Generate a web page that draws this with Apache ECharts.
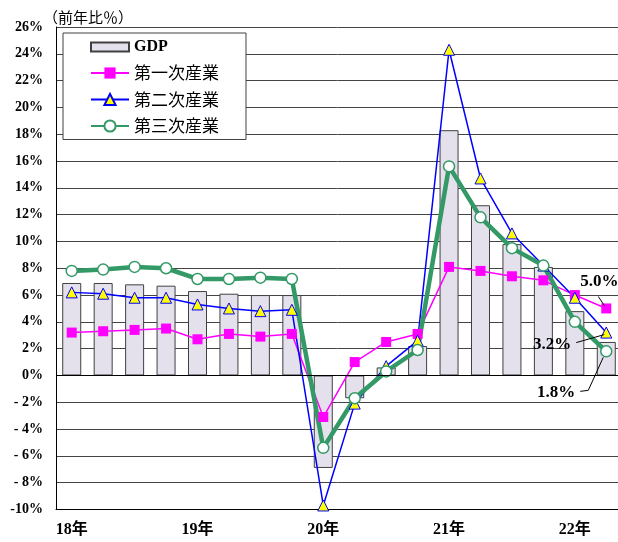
<!DOCTYPE html>
<html>
<head>
<meta charset="utf-8">
<script src="https://cdn.jsdelivr.net/npm/echarts@6/dist/echarts.min.js"></script>
<style>
  html, body { margin: 0; padding: 0; background: #fff; }
  #main { width: 618px; height: 542px; }
</style>
</head>
<body>
<div id="main"></div>
<script>
  // 四半期（累計、前年比%）
  var quarters = ['18Q1', '18Q2', '18Q3', '18Q4', '19Q1', '19Q2', '19Q3', '19Q4',
    '20Q1', '20Q2', '20Q3', '20Q4', '21Q1', '21Q2', '21Q3', '21Q4', '22Q1', '22Q2'];
  var gdp = [6.9, 6.9, 6.8, 6.7, 6.3, 6.1, 6.0, 6.0, -6.9, -1.7, 0.6, 2.2, 18.3, 12.7, 9.8, 8.1, 4.8, 2.5];
  var primary = [3.2, 3.3, 3.4, 3.5, 2.7, 3.1, 2.9, 3.1, -3.1, 1.0, 2.5, 3.1, 8.1, 7.8, 7.4, 7.1, 6.0, 5.0];
  var secondary = [6.2, 6.1, 5.8, 5.8, 5.3, 5.0, 4.8, 4.9, -9.7, -2.1, 0.7, 2.6, 24.3, 14.7, 10.6, 8.2, 5.8, 3.2];
  var tertiary = [7.8, 7.9, 8.1, 8.0, 7.2, 7.2, 7.3, 7.2, -5.4, -1.7, 0.3, 1.9, 15.6, 11.8, 9.5, 8.2, 4.0, 1.8];
  var names = ['GDP', '第一次産業', '第二次産業', '第三次産業'];

  var serif = "'Liberation Serif', 'Noto Sans CJK JP', serif";
  var cjk = "'Noto Sans CJK JP', sans-serif";

  var chart = echarts.init(document.getElementById('main'));

  var option = {
    animation: false,
    title: {
      text: '（前年比％）',
      left: 38,
      top: 5,
      textStyle: { fontFamily: cjk, fontSize: 15, fontWeight: 'normal', color: '#000' }
    },
    legend: {
      orient: 'vertical',
      left: 63,
      top: 33,
      padding: [6, 27, 5, 27],
      backgroundColor: '#fff',
      borderColor: '#404040',
      borderWidth: 1,
      itemWidth: 38,
      itemHeight: 14,
      itemGap: 9.5,
      textStyle: { fontFamily: cjk, fontSize: 17, color: '#000', lineHeight: 14 },
      data: [
        { name: names[0], icon: 'path://M0,0H38V9H0Z',
          textStyle: { fontFamily: serif, fontWeight: 'bold', fontSize: 16 } },
        names[1], names[2], names[3]
      ]
    },
    grid: {
      left: 56,
      top: 27,
      width: 566,
      height: 482.5,
      outerBoundsMode: 'none'
    },
    xAxis: {
      type: 'category',
      data: quarters,
      axisLine: { onZero: false, lineStyle: { color: '#000' } },
      axisTick: { show: false },
      axisLabel: {
        interval: 0,
        margin: 12,
        fontFamily: serif,
        fontWeight: 'bold',
        fontSize: 16,
        color: '#000',
        formatter: function (v) {
          return v.slice(2) === 'Q1' ? v.slice(0, 2) + '年' : '';
        }
      }
    },
    yAxis: {
      type: 'value',
      min: -10,
      max: 26,
      interval: 2,
      axisLine: { show: true, lineStyle: { color: '#000' } },
      axisTick: { show: false },
      splitLine: { lineStyle: { color: '#444', width: 1 } },
      axisLabel: {
        margin: 13,
        fontFamily: serif,
        fontWeight: 'bold',
        fontSize: 14,
        color: '#000',
        formatter: function (v) {
          if (v < 0) {
            var a = Math.abs(v);
            return '-' + (a < 10 ? ' ' : '') + a + '%';
          }
          return v + '%';
        }
      }
    },
    series: [
      {
        name: names[0],
        type: 'bar',
        data: gdp,
        barWidth: 19,
        itemStyle: { color: '#E4E0EC', borderColor: '#404040', borderWidth: 1 },
        markLine: {
          silent: true,
          symbol: 'none',
          label: { show: false },
          lineStyle: { color: '#000', width: 1, type: 'solid' },
          data: [{ yAxis: 0 }]
        }
      },
      {
        name: names[1],
        type: 'line',
        data: primary,
        symbol: 'rect',
        symbolSize: 10,
        lineStyle: { color: '#FF00FF', width: 1.5 },
        itemStyle: { color: '#FF00FF', borderWidth: 0 }
      },
      {
        name: names[2],
        type: 'line',
        data: secondary,
        symbol: 'triangle',
        symbolSize: 11,
        lineStyle: { color: '#0000FF', width: 1.5 },
        itemStyle: { color: '#FFFF00', borderColor: '#0000FF', borderWidth: 1 }
      },
      {
        name: names[3],
        type: 'line',
        data: tertiary,
        symbol: 'circle',
        symbolSize: 11,
        lineStyle: { color: '#339966', width: 4.5 },
        itemStyle: { color: '#fff', borderColor: '#339966', borderWidth: 1.5 }
      }
    ]
  };

  chart.setOption(option);

  // 最終四半期の注記（データ点からの相対位置で配置）
  var last = quarters.length - 1;
  function pt(si, arr) {
    return chart.convertToPixel({ seriesIndex: si }, [last, arr[last]]);
  }
  var p1 = pt(1, primary), p2 = pt(2, secondary), p3 = pt(3, tertiary);
  var noteFont = 'bold 17px ' + serif;
  var graphics = [
    { type: 'text', z: 100, x: p1[0] - 7, y: p1[1] - 27,
      style: { text: primary[last].toFixed(1) + '%', font: noteFont, fill: '#000', align: 'center', verticalAlign: 'middle' } },
    { type: 'polyline', z: 100, shape: { points: [[p1[0] - 8, p1[1] - 12], [p1[0] - 2, p1[1] - 3]] },
      style: { stroke: '#000', lineWidth: 1, fill: null } },
    { type: 'text', z: 100, x: p2[0] - 35, y: p2[1] + 12,
      style: { text: secondary[last].toFixed(1) + '%', font: noteFont, fill: '#000', align: 'right', verticalAlign: 'middle' } },
    { type: 'polyline', z: 100, shape: { points: [[p2[0] - 30, p2[1] + 10], [p2[0] - 2, p2[1] + 2]] },
      style: { stroke: '#000', lineWidth: 1, fill: null } },
    { type: 'text', z: 100, x: p3[0] - 31, y: p3[1] + 41,
      style: { text: tertiary[last].toFixed(1) + '%', font: noteFont, fill: '#000', align: 'right', verticalAlign: 'middle' } },
    { type: 'polyline', z: 100, shape: { points: [[p3[0] - 26, p3[1] + 40], [p3[0] - 18, p3[1] + 39], [p3[0] - 3, p3[1] + 6]] },
      style: { stroke: '#000', lineWidth: 1, fill: null } }
  ];
  chart.setOption({ graphic: graphics });
</script>
</body>
</html>
